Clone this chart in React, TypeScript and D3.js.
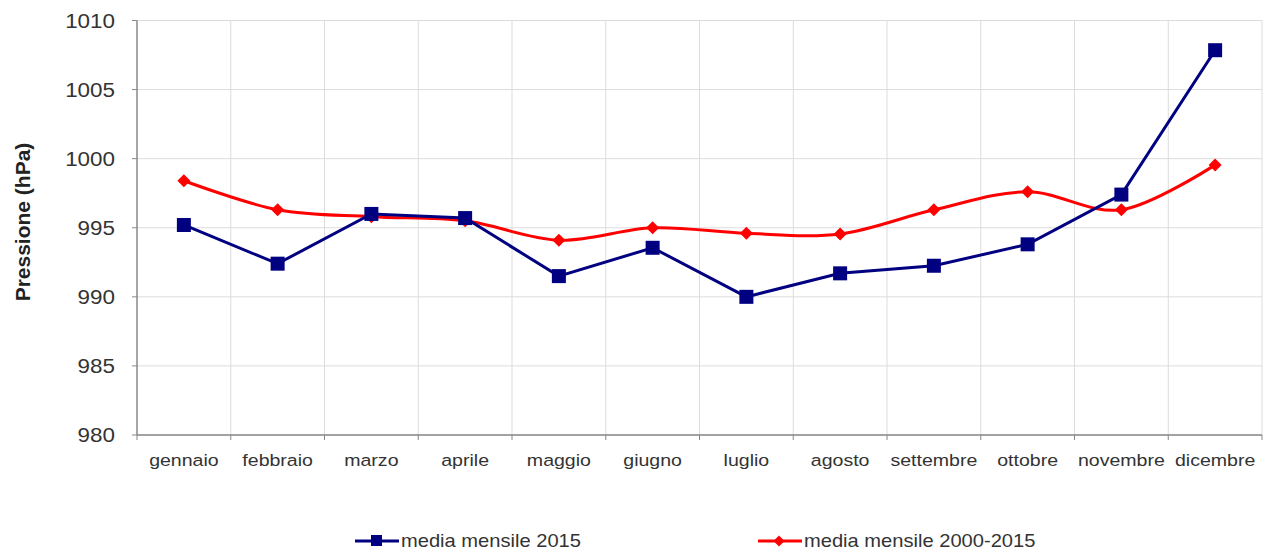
import React from "react";
import * as d3 from "d3";

const months = ["gennaio","febbraio","marzo","aprile","maggio","giugno","luglio","agosto","settembre","ottobre","novembre","dicembre"];
const media2015 = [995.2, 992.4, 996.0, 995.7, 991.5, 993.55, 990.0, 991.7, 992.25, 993.8, 997.4, 1007.85];
const media2000_2015 = [998.4, 996.3, 995.8, 995.5, 994.1, 995.0, 994.6, 994.55, 996.3, 997.6, 996.3, 999.55];
const yTicks = [980, 985, 990, 995, 1000, 1005, 1010];
const seriesNames = ["media mensile 2015", "media mensile 2000-2015"];

const W = 1271, H = 553;
const L = 137, R = 1262, T = 20.5, B = 435;
const SX = 1.15;

function T2(props: { x: number; y: number; size: number; anchor?: string; children: React.ReactNode; dy?: string }) {
  const { x, y, size, anchor, children, dy } = props;
  return (
    <text transform={`translate(${x},${y}) scale(${SX},1)`} textAnchor={anchor || "start"} fontSize={size} dy={dy} fill="#333">
      {children}
    </text>
  );
}

export default function App() {
  const x = d3.scaleBand<string>().domain(months).range([L, R]).padding(0);
  const y = d3.scaleLinear().domain([980, 1010]).range([B, T]);
  const cx = (m: string) => (x(m) as number) + x.bandwidth() / 2;
  const blueLine = d3.line<number>().x((_, i) => cx(months[i])).y(d => y(d))(media2015) as string;
  const redLine = d3.line<number>().x((_, i) => cx(months[i])).y(d => y(d)).curve(d3.curveCardinal.tension(0))(media2000_2015) as string;
  const bounds = months.map(m => x(m) as number).concat([R]);
  const font = "Liberation Sans, Arial, sans-serif";
  const blue = "#000080", red = "#ff0000";
  const diamond = (px: number, py: number, r: number) => `M${px},${py - r}L${px + r},${py}L${px},${py + r}L${px - r},${py}Z`;
  return (
    <svg width={W} height={H} style={{ position: "absolute", left: 0, top: 0, background: "#fff" }} fontFamily={font}>
      {yTicks.map(t => (
        <g key={t}>
          <line x1={L} x2={R} y1={y(t)} y2={y(t)} stroke="#dcdcdc" strokeWidth={1} />
          <line x1={L - 5} x2={L} y1={y(t)} y2={y(t)} stroke="#888" strokeWidth={1} />
          <T2 x={115} y={y(t)} size={19.5} anchor="end" dy="0.36em">{t}</T2>
        </g>
      ))}
      {bounds.map((b, i) => (
        <g key={i}>
          {i > 0 && <line x1={b} x2={b} y1={T} y2={B} stroke="#dcdcdc" strokeWidth={1} />}
          <line x1={b} x2={b} y1={B} y2={B + 5} stroke="#888" strokeWidth={1} />
        </g>
      ))}
      <line x1={L} x2={L} y1={T} y2={B} stroke="#888" strokeWidth={1.5} />
      <line x1={L} x2={R} y1={B} y2={B} stroke="#888" strokeWidth={1.5} />
      {months.map(m => (
        <T2 key={m} x={cx(m)} y={466} size={17} anchor="middle">{m}</T2>
      ))}
      <text transform={`translate(30,${222}) rotate(-90)`} textAnchor="middle" fontSize={21} fontWeight="bold" fill="#222">Pressione (hPa)</text>
      <path d={redLine} fill="none" stroke={red} strokeWidth={3} />
      <path d={blueLine} fill="none" stroke={blue} strokeWidth={3} />
      {media2000_2015.map((v, i) => (
        <path key={"r" + i} d={diamond(cx(months[i]), y(v), 6.5)} fill={red} />
      ))}
      {media2015.map((v, i) => (
        <rect key={"b" + i} x={cx(months[i]) - 7} y={y(v) - 7} width={14} height={14} fill={blue} />
      ))}
      <g>
        <line x1={355} x2={399} y1={541} y2={541} stroke={blue} strokeWidth={3} />
        <rect x={371} y={535} width={11} height={11} fill={blue} />
        <T2 x={401} y={541} size={17.5} dy="0.35em">{seriesNames[0]}</T2>
        <line x1={758} x2={802} y1={541} y2={541} stroke={red} strokeWidth={3} />
        <path d={diamond(779, 541, 5.5)} fill={red} />
        <T2 x={804} y={541} size={17.5} dy="0.35em">{seriesNames[1]}</T2>
      </g>
    </svg>
  );
}
